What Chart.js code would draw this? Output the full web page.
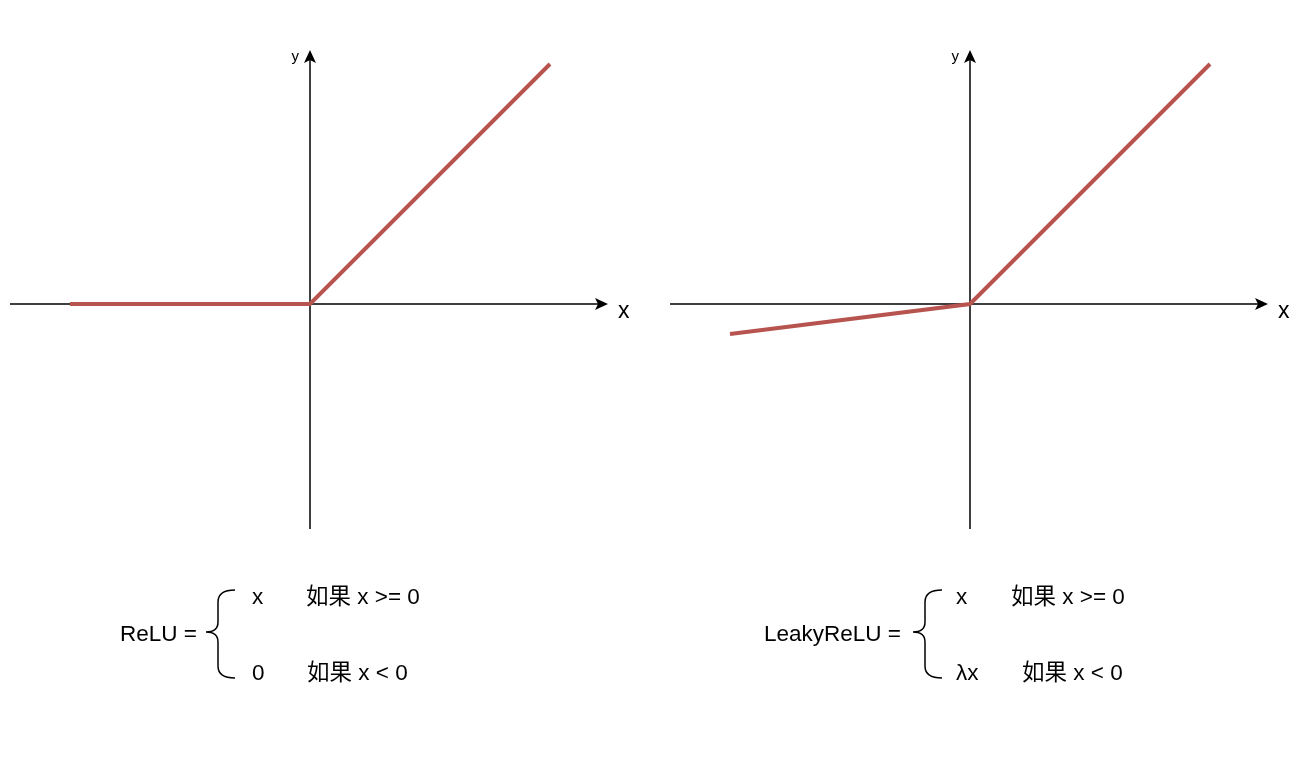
<!DOCTYPE html>
<html>
<head>
<meta charset="utf-8">
<script src="https://cdn.jsdelivr.net/npm/chart.js@4"></script>
<style>
  body { margin: 0; background: #fff; width: 1305px; height: 766px; position: relative; overflow: hidden; }
  canvas { position: absolute; top: 0; }
  #graficoRelu { left: 0; }
  #graficoLeaky { left: 660px; }
</style>
</head>
<body>
<canvas id="graficoRelu" width="655" height="766"></canvas>
<canvas id="graficoLeaky" width="645" height="766"></canvas>
<script>
// Datos de las dos funciones
const xRange = [-5, 5];
const yRange = [-3.75, 4.25];
const reluX = [-4, 0, 4];
const reluY = [0, 0, 4];
const leakyX = [-4, 0, 4];
const leakyY = [-0.5, 0, 4];
const reluFormula = ['ReLU =', 'x', '如果 x >= 0', '0', '如果 x < 0'];
const leakyFormula = ['LeakyReLU =', 'x', '如果 x >= 0', 'λx', '如果 x < 0'];

const fuente = '"Liberation Sans", Arial, "Noto Sans CJK SC", sans-serif';

// Ejes con flechas y etiquetas x / y
const ejes = {
  id: 'ejes',
  beforeDatasetsDraw(chart) {
    const { ctx, scales: { x, y } } = chart;
    const x0 = x.getPixelForValue(0), y0 = y.getPixelForValue(0);
    const left = x.getPixelForValue(xRange[0]);
    const right = x.getPixelForValue(xRange[1]) - 2;
    const top = y.getPixelForValue(yRange[1]) + 1;
    const bottom = y.getPixelForValue(yRange[0]);

    ctx.save();
    ctx.strokeStyle = '#000';
    ctx.lineWidth = 1.5;
    ctx.beginPath();
    ctx.moveTo(left, y0); ctx.lineTo(right - 8, y0);
    ctx.moveTo(x0, bottom); ctx.lineTo(x0, top + 8);
    ctx.stroke();

    ctx.fillStyle = '#000';
    ctx.beginPath();
    ctx.moveTo(right, y0); ctx.lineTo(right - 13, y0 - 6); ctx.lineTo(right - 10, y0); ctx.lineTo(right - 13, y0 + 6);
    ctx.closePath();
    ctx.moveTo(x0, top); ctx.lineTo(x0 - 6, top + 13); ctx.lineTo(x0, top + 10); ctx.lineTo(x0 + 6, top + 13);
    ctx.closePath();
    ctx.fill();

    ctx.textBaseline = 'alphabetic';
    ctx.font = '23px ' + fuente;
    ctx.textAlign = 'left';
    ctx.fillText('x', right + 10, y0 + 14);
    ctx.font = '15px ' + fuente;
    ctx.textAlign = 'right';
    ctx.fillText('y', x0 - 11, top + 11);
    ctx.restore();
  },
  afterDraw(chart) {
    const f = chart.options.plugins.formula;
    const ctx = chart.ctx;
    ctx.save();
    ctx.fillStyle = '#000';
    ctx.font = '22.5px ' + fuente;
    ctx.textAlign = 'left';
    ctx.textBaseline = 'alphabetic';
    ctx.fillText(f.lines[0], f.nameX, 641);
    ctx.fillText(f.lines[1], f.col1, 604);
    ctx.fillText(f.lines[2], f.col2a, 604);
    ctx.fillText(f.lines[3], f.col1, 680);
    ctx.fillText(f.lines[4], f.col2b, 680);

    // llave
    const b = f.braceX;
    ctx.strokeStyle = '#000';
    ctx.lineWidth = 1.5;
    ctx.beginPath();
    ctx.moveTo(b + 17, 590);
    ctx.quadraticCurveTo(b, 590, b, 602);
    ctx.lineTo(b, 622);
    ctx.quadraticCurveTo(b, 632, b - 12, 632);
    ctx.quadraticCurveTo(b, 632, b, 642);
    ctx.lineTo(b, 666);
    ctx.quadraticCurveTo(b, 678, b + 17, 678);
    ctx.stroke();
    ctx.restore();
  }
};

function crearGrafico(id, xs, ys, padRight, formula) {
  return new Chart(document.getElementById(id), {
    type: 'scatter',
    data: {
      datasets: [{
        data: xs.map((v, i) => ({ x: v, y: ys[i] })),
        showLine: true,
        borderColor: '#b85450',
        borderWidth: 4,
        pointRadius: 0,
        fill: false
      }]
    },
    options: {
      responsive: false,
      animation: false,
      layout: { padding: { left: 10, right: padRight, top: 49, bottom: 237 } },
      plugins: { legend: { display: false }, tooltip: { enabled: false }, formula: formula },
      scales: {
        x: { type: 'linear', min: xRange[0], max: xRange[1], display: false },
        y: { type: 'linear', min: yRange[0], max: yRange[1], display: false }
      }
    },
    plugins: [ejes]
  });
}

const grafico1 = crearGrafico('graficoRelu', reluX, reluY, 45,
  { lines: reluFormula, nameX: 120, braceX: 218, col1: 252, col2a: 306, col2b: 307 });
const grafico2 = crearGrafico('graficoLeaky', leakyX, leakyY, 35,
  { lines: leakyFormula, nameX: 104, braceX: 265, col1: 296, col2a: 351, col2b: 362 });
</script>
</body>
</html>
